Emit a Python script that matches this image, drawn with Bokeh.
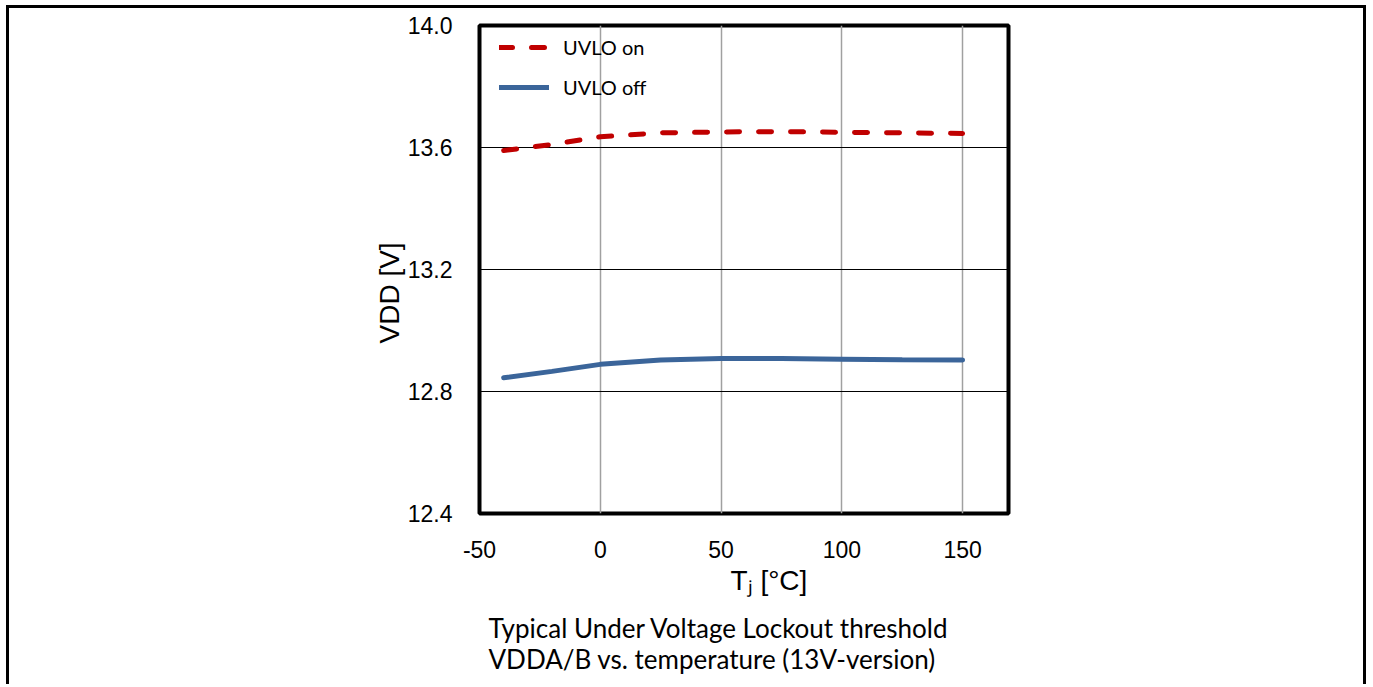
from bokeh.plotting import figure
from bokeh.models import (Range1d, FixedTicker, PrintfTickFormatter, Legend, LegendItem, Title)
from bokeh.embed import file_html
from bokeh.resources import INLINE

# ---- data ----
temps = [-40, -20, 0, 25, 50, 75, 100, 125, 150]
uvlo_on = [13.590, 13.610, 13.635, 13.648, 13.651, 13.652, 13.650, 13.648, 13.646]
uvlo_off = [12.845, 12.866, 12.889, 12.903, 12.908, 12.908, 12.906, 12.904, 12.903]
x_ticks = [-50, 0, 50, 100, 150]
y_ticks = [12.4, 12.8, 13.2, 13.6, 14.0]
series_names = ["UVLO on", "UVLO off"]
x_label = "T\u2c7c [°C]"
y_label = "VDD [V]"
caption = ["Typical Under Voltage Lockout threshold", "VDDA/B vs. temperature (13V-version)"]

TICK_FONT = "Liberation Sans"
TEXT_FONT = "Lato"

p = figure(width=1360, height=679, output_backend="svg", toolbar_location=None,
           x_range=Range1d(-50, 169), y_range=Range1d(12.4, 14.0),
           min_border_left=470, min_border_top=17, min_border_right=361, min_border_bottom=174)
p.styles = {"border-top": "3px solid black", "border-left": "3px solid black",
            "border-right": "3px solid black", "margin-left": "6px", "margin-top": "5px"}

p.background_fill_color = "white"
p.border_fill_color = "white"
p.outline_line_color = "black"
p.outline_line_width = 4

for ax in (p.xaxis[0], p.yaxis[0]):
    ax.axis_line_color = None
    ax.major_tick_line_color = None
    ax.minor_tick_line_color = None
    ax.major_tick_out = 0
    ax.major_tick_in = 0
    ax.minor_tick_out = 0
    ax.major_label_text_font = TICK_FONT
    ax.major_label_text_font_size = "23px"
    ax.major_label_text_color = "black"

p.xaxis.ticker = FixedTicker(ticks=x_ticks)
p.yaxis.ticker = FixedTicker(ticks=y_ticks)
p.xaxis.formatter = PrintfTickFormatter(format="%d")
p.yaxis.formatter = PrintfTickFormatter(format="%.1f")
p.xaxis.major_label_standoff = 27
p.yaxis.major_label_standoff = 27

p.xgrid.grid_line_color = "#A0A0A0"
p.xgrid.grid_line_width = 1.5
p.ygrid.grid_line_color = "black"
p.ygrid.grid_line_width = 1

r_on = p.line(temps, uvlo_on, line_color="#C00000", line_width=5, line_dash="13 19", line_cap="round")
r_off = p.line(temps, uvlo_off, line_color="#3B659A", line_width=5, line_cap="round")

legend = Legend(items=[LegendItem(label=series_names[0], renderers=[r_on]),
                       LegendItem(label=series_names[1], renderers=[r_off])],
                location=(20, 414), padding=0, margin=0, spacing=16,
                glyph_width=50, glyph_height=20, label_height=20, label_standoff=14,
                label_text_font=TEXT_FONT, label_text_font_size="20px",
                label_text_color="black",
                border_line_color=None, background_fill_alpha=0)
p.add_layout(legend, "center")

# axis titles
p.add_layout(Title(text=y_label, align="left", offset=170, standoff=0,
                   text_font=TICK_FONT, text_font_size="28px", text_font_style="normal",
                   text_color="black"), "left")
p.add_layout(Title(text=x_label, align="left", offset=251, standoff=5,
                   text_font=TICK_FONT, text_font_size="28px", text_font_style="normal",
                   text_color="black"), "below")

# caption (two lines in one title)
p.add_layout(Title(text="\n".join(caption), align="left", offset=9, standoff=24,
                   text_font=TEXT_FONT, text_font_size="26px", text_font_style="normal",
                   text_line_height=0.98, text_color="black"), "below")

open("out.html", "w").write(file_html(p, INLINE))
